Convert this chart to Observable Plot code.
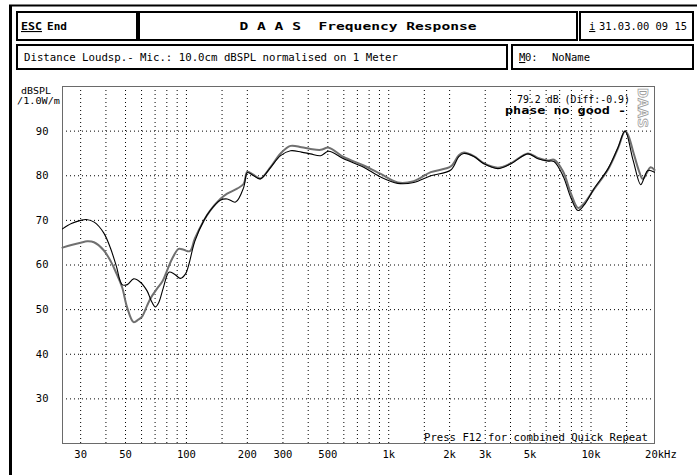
<!DOCTYPE html>
<html><head><meta charset="utf-8">
<script src="https://cdn.jsdelivr.net/npm/d3@7"></script>
<script src="https://cdn.jsdelivr.net/npm/@observablehq/plot@0.6"></script>
<style>body{margin:0;background:#fff;}</style>
</head><body><div id="chart"></div>
<script>
// ---- data ----
const freqA = [24.4,27,30,32,35,39,42.1,45,48.1,51,54.8,59,63.9,67,70.2,73,77,82,87,93.5,99,102.6,110,122,131,147,159,175,192,200,215,232,261,292,327,370,411,461,505,598,752,913,1108,1330,1614,2027,2221,2350,2636,2953,3464,4019,4878,5468,6125,6561,7268,7963,8624,9232,10350,12140,13610,14730,16140,17600,18400,19100,20600];
const splA  = [68.1,69.3,70.0,70.2,69.6,67.2,63.8,59.8,55.6,55.6,56.9,56.2,54.2,52.0,50.6,51.6,55.0,58.4,58.0,57.0,58.0,60.0,65.3,70.0,72.2,74.5,74.8,74.1,77.4,80.7,80.0,79.3,81.9,84.5,85.6,85.3,84.9,84.5,85.5,83.8,81.9,79.7,78.3,78.5,80.0,81.3,84.3,85.0,84.3,82.7,81.6,82.7,84.9,83.8,83.3,83.2,80.0,75.0,72.2,73.4,77.1,81.6,86.4,90.0,83.5,78.0,79.8,81.2,80.8];
const freqB = [24.4,27,30,32.3,34.9,39,42.4,45,48.1,50.9,54.8,58,60.5,63.9,67,71.6,76,79,85,91.6,97,104,110,122,131,147,159,178,192,200,215,232,261,292,327,370,411,461,505,598,752,913,1108,1330,1614,2027,2221,2350,2636,2953,3464,4019,4878,5468,6125,6561,7268,7963,8624,9232,10350,12140,13610,14730,15300,16140,17290,18000,18800,19700,20600];
const splB  = [63.9,64.5,65.0,65.3,65.1,63.3,60.7,58.2,55.0,50.5,47.2,47.8,48.5,50.9,52.8,54.7,56.3,58.0,61.4,63.6,63.4,63.1,65.9,70.0,72.2,74.8,76.0,77.1,78.2,80.9,80.2,79.4,82.0,85.0,86.7,86.4,86.0,85.8,86.3,84.2,82.3,80.4,78.5,78.8,80.8,82.1,84.6,85.2,84.4,82.8,81.8,82.8,85.0,84.0,83.4,83.6,81.0,76.0,72.8,73.8,77.0,81.4,86.2,90.0,89.0,85.5,81.0,79.3,80.5,81.9,81.3];
const gridFreqs = [30,40,50,60,70,80,90,100,150,200,300,400,500,600,700,800,900,1000,1500,2000,3000,4000,5000,6000,7000,8000,9000,10000,15000];
const gridDb = [30,40,50,60,70,80,90];
const xTickValues = [30,50,100,200,300,500,1000,2000,3000,5000,10000];
const xTickLabels = ["30","50","100","200","300","500","1k","2k","3k","5k","10k"];
const xLastTick = [20000];
const xLastLabel = ["20kHz"];
const yTickValues = [30,40,50,60,70,80,90];

const seriesA = freqA.map((f,i)=>({f, v: splA[i]}));
const seriesB = freqB.map((f,i)=>({f, v: splB[i]}));
const xLabels = xTickValues.map((f,i)=>({f, s: xTickLabels[i]}));
const xLast = xLastTick.map((f,i)=>({f, s: xLastLabel[i]}));
const font = "'DejaVu Sans Mono', monospace";

const plot = Plot.plot({
  width: 697, height: 475,
  marginLeft: 62, marginRight: 43, marginTop: 86, marginBottom: 32,
  style: {fontFamily: font, fontSize: "10.5px", background: "white", color: "black", overflow: "visible"},
  x: {type: "log", domain: [24.4, 20600], axis: null},
  y: {domain: [20, 100]},
  marks: [
    Plot.ruleX(gridFreqs, {stroke: "black", strokeDasharray: "1,3", strokeWidth: 1}),
    Plot.ruleY(gridDb, {stroke: "black", strokeDasharray: "1,3", strokeWidth: 1}),
    Plot.frame({stroke: "#6a6a6a", strokeWidth: 1}),
    Plot.line(seriesB, {x: "f", y: "v", stroke: "#707070", strokeWidth: 2, curve: "catmull-rom"}),
    Plot.line(seriesA, {x: "f", y: "v", stroke: "black", strokeWidth: 1.1, curve: "catmull-rom"}),
    Plot.axisY({ticks: yTickValues, tickSize: 0, tickPadding: 14, label: null}),
    Plot.text(xLabels, {x: "f", text: "s", frameAnchor: "bottom", dy: 14, fill: "black"}),
    Plot.text(xLast, {x: "f", text: "s", frameAnchor: "bottom", dy: 14, dx: 9, fill: "black"})
  ]
});
document.getElementById("chart").append(plot);

// ---- decorations (header, annotations) ----
const svg = d3.select(plot);
const g = svg.append("g").attr("font-family", font).attr("fill", "black").attr("text-anchor", "start");
g.append("line").attr("x1", 9).attr("y1", 5.5).attr("x2", 697).attr("y2", 5.5).attr("stroke", "black").attr("stroke-width", 2);
g.append("line").attr("x1", 10.5).attr("y1", 5).attr("x2", 10.5).attr("y2", 475).attr("stroke", "black").attr("stroke-width", 3);
const boxes = [[17,12,120,28],[139,12,438,28],[580,12,113,28],[17,45,490,24],[512,45,181,24]];
boxes.forEach(([x,y,w,h]) => g.append("rect").attr("x", x).attr("y", y).attr("width", w).attr("height", h)
  .attr("fill", "white").attr("stroke", "black").attr("stroke-width", 2));

function txt(s, x, y, opts = {}) {
  const t = g.append("text").attr("x", x).attr("y", y).attr("font-size", opts.size || 10.5)
    .attr("text-anchor", opts.anchor || "start").text(s);
  if (opts.bold) t.attr("font-weight", "bold");
  if (opts.len) t.attr("textLength", opts.len).attr("lengthAdjust", "spacingAndGlyphs");
  if (opts.under) t.attr("text-decoration", "underline");
  return t;
}
txt("ESC", 21, 30, {bold: true, under: true, size: 11, len: 21});
txt("End", 47, 30, {bold: true, size: 11, len: 20});
txt("D A A S  Frequency Response", 358, 30, {bold: true, size: 11, anchor: "middle", len: 237});
txt("i", 589, 30, {under: true});
txt("31.03.00 09 15", 599, 30, {len: 88});
txt("Distance Loudsp.- Mic.: 10.0cm dBSPL normalised on 1 Meter", 24, 61, {len: 374});
txt("M", 519, 61, {under: true});
txt("0:", 525, 61);
txt("NoName", 552, 61, {len: 38});

txt("dBSPL", 21, 94, {size: 9.5, len: 30});
txt("/1.0W/m", 17, 104, {size: 9.5, len: 43});

txt("79.2 dB (Diff:-0.9)", 630, 103, {anchor: "end", len: 113});
txt("phase no good -", 626, 114, {anchor: "end", bold: true, len: 121});
txt("Press F12 for combined Quick Repeat", 648, 441, {anchor: "end", len: 224});

g.append("text").attr("transform", "translate(638,88) rotate(90)").attr("font-size", 14).attr("font-weight", "bold")
  .attr("text-anchor", "start").attr("fill", "white").attr("stroke", "#9a9a9a").attr("stroke-width", 0.7)
  .attr("textLength", 40).attr("lengthAdjust", "spacingAndGlyphs").text("DAAS");
</script>
</body></html>
